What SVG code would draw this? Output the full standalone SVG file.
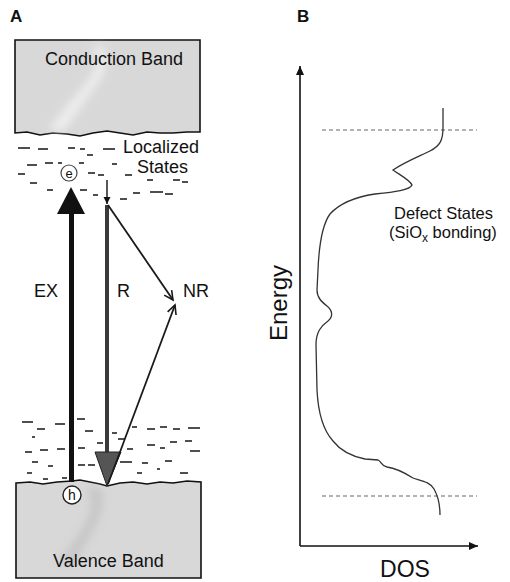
<svg xmlns="http://www.w3.org/2000/svg" width="510" height="582" viewBox="0 0 510 582">
<style>
text{font-family:"Liberation Sans",Arial,sans-serif;fill:#111}
.lbl{font-size:18px}
.def{font-size:16.5px}
.pan{font-size:17px;font-weight:bold}
.band{fill:#d8d8d8;stroke:#111;stroke-width:1.6}
.dash line{stroke:#222;stroke-width:1.6}
.thin{stroke:#1a1a1a;stroke-width:1.8;fill:none}
.axis{stroke:#111;stroke-width:1.6;fill:none}
.ref{stroke:#666;stroke-width:1.2;stroke-dasharray:4 3}
</style>
<defs>
<marker id="vopen" markerWidth="12" markerHeight="12" refX="10" refY="5" orient="auto" markerUnits="userSpaceOnUse" viewBox="0 0 12 10">
<path d="M1,0.5 L10,5 L1,9.5" fill="none" stroke="#1a1a1a" stroke-width="1.6"/>
</marker>
<marker id="tri" markerWidth="10" markerHeight="10" refX="9" refY="4" orient="auto" markerUnits="userSpaceOnUse" viewBox="0 0 10 8">
<path d="M0,0 L9,4 L0,8 Z" fill="#111"/>
</marker>
<marker id="small" markerWidth="8" markerHeight="8" refX="7" refY="3.5" orient="auto" markerUnits="userSpaceOnUse" viewBox="0 0 8 7">
<path d="M0,0 L7,3.5 L0,7 Z" fill="#111"/>
</marker>
<filter id="blur" x="-50%" y="-50%" width="200%" height="200%"><feGaussianBlur stdDeviation="4"/></filter>
</defs>

<text class="pan" x="10" y="22">A</text>
<text class="pan" x="297" y="22">B</text>

<g id="conduction-band">
<path class="band" d="M15,40 L200,40 L200,132 L187,132 L173,133 L160,133 L147,132 L133,135 L120,133 L107,131 L93,133 L80,136 L67,134 L53,133 L40,135 L27,132 L15,133 Z"/>
<path d="M92,46 C104,60 90,80 76,95 C64,108 56,120 48,131 L64,131 C74,118 82,105 92,92 C104,76 112,60 102,46 Z" fill="#efefef" filter="url(#blur)" opacity="0.9"/>
<text class="lbl" x="45" y="65">Conduction Band</text>
</g>

<g id="valence-band">
<path class="band" d="M16,483 L30,482 L43,484 L57,482 L72,481 L80,480 L90,482 L100,484 L107,486 L120,483 L133,482 L147,484 L160,482 L173,483 L187,481 L201,482 L201,578 L16,578 Z"/>
<path d="M86,488 C96,500 90,520 78,535 C70,548 64,556 58,565 L74,565 C80,552 88,540 96,525 C104,508 106,494 98,487 Z" fill="#c2c2c2" filter="url(#blur)" opacity="0.8"/>
<text class="lbl" x="53" y="567">Valence Band</text>
</g>

<g id="localized-states">
<g class="dash">
<line x1="18" y1="148" x2="30" y2="148"/><line x1="38" y1="149" x2="48" y2="149"/><line x1="68" y1="148" x2="75" y2="148"/><line x1="80" y1="149" x2="85" y2="149"/><line x1="103" y1="149" x2="115" y2="149"/><line x1="87" y1="155" x2="93" y2="155"/>
<line x1="27" y1="165" x2="37" y2="165"/><line x1="45" y1="163" x2="53" y2="163"/><line x1="58" y1="163" x2="62" y2="163"/><line x1="79" y1="163" x2="84" y2="163"/><line x1="112" y1="164" x2="117" y2="164"/>
<line x1="18" y1="174" x2="25" y2="174"/><line x1="88" y1="173" x2="95" y2="173"/><line x1="98" y1="175" x2="104" y2="175"/><line x1="125" y1="175" x2="132" y2="175"/>
<line x1="147" y1="180" x2="153" y2="180"/><line x1="173" y1="180" x2="180" y2="180"/><line x1="182" y1="182" x2="188" y2="182"/>
<line x1="30" y1="183" x2="37" y2="183"/>
<line x1="47" y1="190" x2="53" y2="190"/><line x1="80" y1="190" x2="87" y2="190"/><line x1="93" y1="195" x2="98" y2="195"/><line x1="120" y1="199" x2="127" y2="199"/><line x1="133" y1="193" x2="140" y2="193"/><line x1="150" y1="192" x2="163" y2="192"/><line x1="165" y1="194" x2="173" y2="194"/>

<line x1="22" y1="422" x2="33" y2="422"/><line x1="37" y1="429" x2="45" y2="429"/><line x1="55" y1="424" x2="65" y2="424"/><line x1="77" y1="419" x2="85" y2="419"/><line x1="85" y1="431" x2="93" y2="431"/><line x1="32" y1="437" x2="35" y2="437"/><line x1="97" y1="443" x2="103" y2="443"/>
<line x1="25" y1="452" x2="32" y2="452"/><line x1="40" y1="450" x2="48" y2="450"/><line x1="57" y1="449" x2="65" y2="449"/><line x1="78" y1="448" x2="85" y2="448"/>
<line x1="32" y1="462" x2="38" y2="462"/><line x1="48" y1="466" x2="53" y2="466"/><line x1="78" y1="465" x2="85" y2="465"/><line x1="88" y1="465" x2="95" y2="465"/>
<line x1="27" y1="473" x2="32" y2="473"/><line x1="43" y1="479" x2="48" y2="479"/><line x1="62" y1="478" x2="67" y2="478"/>
<line x1="132" y1="427" x2="137" y2="427"/><line x1="147" y1="429" x2="155" y2="429"/><line x1="160" y1="427" x2="167" y2="427"/><line x1="173" y1="429" x2="180" y2="429"/><line x1="188" y1="428" x2="200" y2="428"/>
<line x1="118" y1="439" x2="125" y2="439"/><line x1="112" y1="433" x2="117" y2="433"/><line x1="147" y1="445" x2="155" y2="445"/><line x1="160" y1="448" x2="165" y2="448"/><line x1="170" y1="442" x2="177" y2="442"/><line x1="185" y1="441" x2="192" y2="441"/><line x1="190" y1="451" x2="200" y2="451"/>
<line x1="127" y1="449" x2="133" y2="449"/><line x1="120" y1="462" x2="132" y2="462"/><line x1="142" y1="463" x2="148" y2="463"/><line x1="165" y1="461" x2="172" y2="461"/><line x1="157" y1="469" x2="160" y2="469"/><line x1="137" y1="473" x2="142" y2="473"/><line x1="180" y1="473" x2="188" y2="473"/>
</g>
<text class="lbl" x="123" y="153">Localized</text>
<text class="lbl" x="137" y="173">States</text>
</g>

<g id="connectors">
<rect x="69" y="210" width="5" height="272" fill="#111"/>
<path d="M57,214 L85,214 L71,187 Z" fill="#111"/>
<line x1="107" y1="205" x2="107" y2="455" stroke="#3a3a3a" stroke-width="4"/>
<path d="M95,452 L121,452 L107,486 Z" fill="#555" stroke="#222" stroke-width="1"/>
<line x1="107" y1="180" x2="107" y2="204" stroke="#111" stroke-width="1.4" marker-end="url(#small)"/>
<line class="thin" x1="108" y1="205" x2="173" y2="300" marker-end="url(#vopen)"/>
<line class="thin" x1="108" y1="484" x2="175" y2="305" marker-end="url(#vopen)"/>
</g>

<g id="electron">
<circle cx="69" cy="173" r="8" fill="#fff" stroke="#444" stroke-width="1.2"/>
<text x="69" y="177.5" font-size="13" text-anchor="middle">e</text>
</g>
<g id="hole">
<circle cx="72" cy="495" r="9" fill="#fff" stroke="#222" stroke-width="1.4"/>
<text x="72" y="500" font-size="14" text-anchor="middle">h</text>
</g>

<g id="labels-a">
<text class="lbl" x="34" y="297">EX</text>
<text class="lbl" x="117" y="297">R</text>
<text class="lbl" x="183" y="297">NR</text>
</g>

<g id="axes">
<line class="axis" x1="300" y1="546" x2="300" y2="66" marker-end="url(#tri)"/>
<line class="axis" x1="300" y1="546" x2="478" y2="546" marker-end="url(#tri)"/>
<text x="287" y="303" font-size="24" text-anchor="middle" transform="rotate(-90 287 303)">Energy</text>
<text x="405" y="577" font-size="23" text-anchor="middle">DOS</text>
</g>

<g id="reference-lines">
<line class="ref" x1="322" y1="130" x2="477" y2="130"/>
<line class="ref" x1="322" y1="496" x2="477" y2="496"/>
</g>

<g id="dos-curve">
<path d="M443,108 L443,128 C443,140 440,146 430,151 C420,156 405,162 393,170 C400,175 410,180 412,185 C410,190 395,192 375,194 C355,197 340,203 330,214 C322,225 319,245 318,270 L317,290 C317,298 322,302 327,306 C333,311 333,317 328,321 C321,326 316,332 316,345 L317,390 C318,410 323,430 333,441 C340,450 350,456 365,459 L378,460 C382,462 381,466 387,467 C395,468 405,473 413,478 C422,481 430,482 434,489 C438,496 440,505 440,515" fill="none" stroke="#333" stroke-width="1.3"/>
</g>

<g id="defect-label">
<text class="def" x="394" y="219">Defect States</text>
<text class="def" x="389" y="238">(SiO<tspan font-size="12" dy="4">x</tspan><tspan dy="-4"> bonding)</tspan></text>
</g>
</svg>
